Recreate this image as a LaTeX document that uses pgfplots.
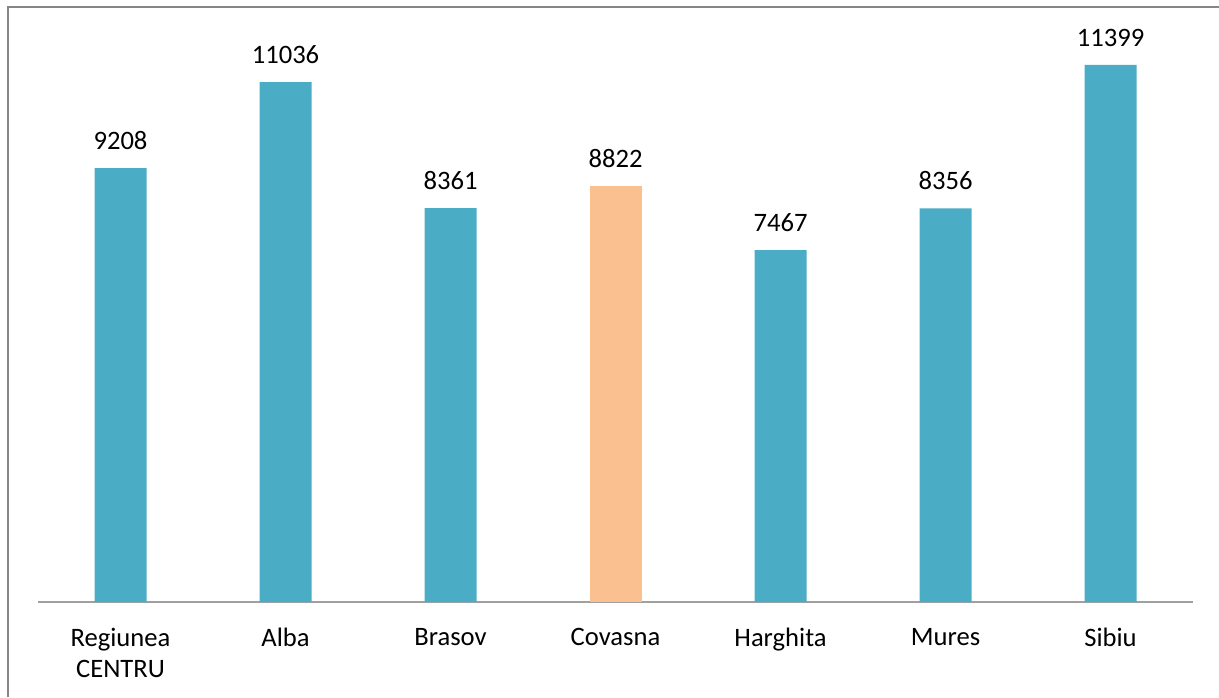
\documentclass[border=0pt]{standalone}
\usepackage{pgfplots}
\pgfplotsset{compat=1.18}
\usepackage{fontspec}
\setmainfont{Carlito}
\definecolor{barteal}{HTML}{4BACC6}
\definecolor{barorange}{HTML}{FAC090}
\definecolor{framegray}{HTML}{868686}
\definecolor{basegray}{HTML}{A0A0A0}
\begin{document}
\begin{tikzpicture}
\useasboundingbox (0,0) rectangle (609.5pt,348.5pt);
\draw[framegray, line width=1pt] (4pt,0) -- (4pt,345pt) -- (609.5pt,345pt);
\begin{axis}[
  at={(19pt,47.5pt)}, anchor=south west,
  width=577.5pt, height=291pt, scale only axis,
  xmin=-0.5, xmax=6.5, ymin=0, ymax=12354,
  axis x line*=bottom, axis y line=none,
  x axis line style={draw=basegray, line width=1pt, -},
  xtick={0,1,2,3,4,5,6},
  xticklabels={{Regiunea\\[1.5pt]CENTRU},Alba,Brasov,Covasna,Harghita,Mures,Sibiu},
  xticklabel style={align=center, font=\fontsize{13.3}{14}\selectfont, text=black, yshift=-9.5pt},
  major tick length=0pt,
  ybar, bar width=26pt,
  /pgf/number format/.cd, 1000 sep={}, assume math mode=true, /pgfplots/.cd,
  nodes near coords,
  nodes near coords style={font=\fontsize{13.3}{14}\selectfont, text=black, anchor=base, inner sep=0pt, yshift=9.25pt},
]
\addplot[fill=barteal, draw=none, bar shift=0pt] coordinates {(0,9208) (1,11036) (2,8361) (4,7467) (5,8356) (6,11399)};
\addplot[fill=barorange, draw=none, bar shift=0pt] coordinates {(3,8822)};
\end{axis}
\end{tikzpicture}
\end{document}
